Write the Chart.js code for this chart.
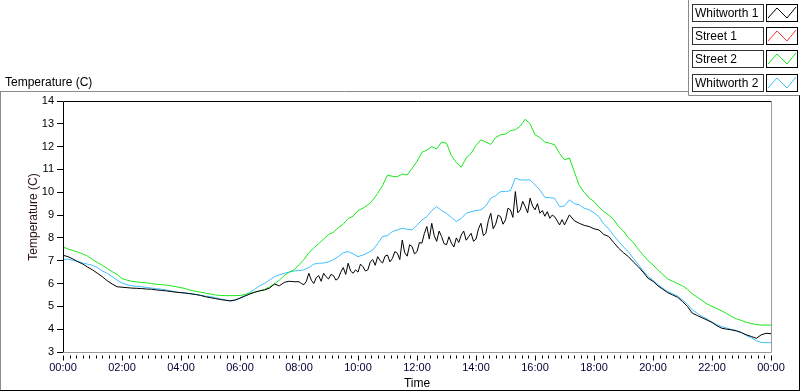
<!DOCTYPE html>
<html>
<head>
<meta charset="utf-8">
<script src="https://cdn.jsdelivr.net/npm/chart.js@4/dist/chart.umd.min.js"></script>
<style>
  html, body { margin: 0; padding: 0; background: #fff; }
  #wrap { width: 800px; height: 392px; }
</style>
</head>
<body>
<div id="wrap"><canvas id="tempChart" width="800" height="392"></canvas></div>
<script>
// Sample times in hours, one reading every 10 minutes from 00:00 to 24:00
const sampleHours = Array.from({ length: 145 }, (_, i) => i / 6);
// Whitworth 1 is read more finely (every 5 min) in its noisy 08:00-17:00 stretch
const blackHours = [
  ...Array.from({ length: 48 }, (_, i) => i / 6),
  ...Array.from({ length: 108 }, (_, i) => 8 + i / 12),
  ...Array.from({ length: 43 }, (_, i) => 17 + i / 6)
];

const seriesNames = ['Whitworth 1', 'Street 1', 'Street 2', 'Whitworth 2'];
const seriesColors = ['#000000', '#ff3030', '#18e818', '#3fbfff'];

// Whitworth 1 (black)
const whitworth1 = [
  7.24, 7.18, 7.08, 6.96, 6.86, 6.72,
  6.60, 6.45, 6.30, 6.12, 5.98, 5.86,
  5.84, 5.82, 5.80, 5.79, 5.78, 5.76,
  5.75, 5.72, 5.70, 5.68, 5.65, 5.62,
  5.60, 5.58, 5.55, 5.52, 5.48, 5.42,
  5.38, 5.34, 5.30, 5.27, 5.24, 5.28,
  5.36, 5.45, 5.54, 5.62, 5.68, 5.72,
  5.80, 5.98, 5.90, 6.05, 6.10, 6.08,
  // 08:00 - 16:55, every 5 minutes
  6.08, 6.00, 5.95, 6.10, 6.45, 6.15, 6.00, 6.25, 6.35, 6.10, 6.45, 6.30,
  6.20, 6.40, 6.35, 6.15, 6.23, 6.50, 6.70, 6.40, 6.89, 6.55, 6.45, 6.60,
  6.50, 6.85, 6.74, 6.55, 6.60, 6.95, 7.05, 6.80, 7.18, 7.00, 6.90, 7.20,
  7.25, 6.95, 7.10, 7.40, 7.33, 7.05, 7.91, 7.35, 7.20, 7.70, 7.62, 7.30,
  7.40, 7.80, 7.77, 8.20, 8.50, 7.95, 8.64, 8.10, 7.85, 8.30, 8.06, 7.75,
  7.70, 8.05, 7.77, 7.60, 8.00, 7.80, 8.13, 8.30, 7.90, 8.05, 8.20, 7.85,
  7.95, 8.40, 8.64, 8.10, 8.20, 8.75, 9.08, 8.40, 8.60, 9.00, 8.93, 8.60,
  8.79, 9.30, 9.23, 8.90, 10.03, 9.10, 9.23, 9.60, 9.37, 9.10, 9.74, 9.40,
  9.23, 9.50, 9.08, 9.20, 8.95, 9.15, 8.86, 9.00, 8.93, 8.75, 8.57, 8.80,
  // 17:00 onwards, every 10 minutes
  8.57, 9.01, 8.75, 8.64, 8.55, 8.50,
  8.40, 8.35, 8.15, 8.06, 7.80, 7.55,
  7.35, 7.18, 6.95, 6.74, 6.50, 6.23,
  6.10, 5.90, 5.75, 5.60, 5.50, 5.40,
  5.21, 5.00, 4.70, 4.60, 4.50, 4.40,
  4.30, 4.15, 4.04, 4.00, 3.97, 3.92,
  3.85, 3.75, 3.68, 3.60, 3.75, 3.82,
  3.80
];

// Street 1 (red) - no readings shown on the graph
const street1 = [];

// Street 2 (green)
const street2 = [
  7.60, 7.52, 7.45, 7.38, 7.30, 7.20,
  7.05, 6.92, 6.80, 6.66, 6.52, 6.40,
  6.22, 6.15, 6.10, 6.07, 6.05, 6.03,
  6.00, 5.97, 5.95, 5.93, 5.90, 5.86,
  5.82, 5.77, 5.70, 5.66, 5.62, 5.58,
  5.54, 5.50, 5.48, 5.47, 5.47, 5.47,
  5.48, 5.52, 5.57, 5.62, 5.68, 5.74,
  5.85, 5.98, 6.15, 6.35, 6.50, 6.60,
  6.82, 7.05, 7.35, 7.55, 7.75, 7.95,
  8.15, 8.25, 8.45, 8.60, 8.85, 8.95,
  9.20, 9.30, 9.45, 9.65, 9.95, 10.30,
  10.75, 10.70, 10.68, 10.80, 10.76, 11.05,
  11.35, 11.75, 11.85, 12.00, 11.90, 12.20,
  12.15, 11.60, 11.30, 11.10, 11.50, 11.70,
  12.05, 12.30, 12.20, 12.10, 12.40, 12.52,
  12.55, 12.70, 12.74, 12.90, 13.20, 13.00,
  12.52, 12.40, 12.20, 12.15, 12.08, 11.70,
  11.42, 11.50, 10.90, 10.30, 10.00, 9.75,
  9.60, 9.35, 9.15, 9.00, 8.80, 8.50,
  8.30, 8.00, 7.80, 7.50, 7.25, 7.00,
  6.82, 6.60, 6.40, 6.20, 6.10, 6.00,
  5.90, 5.75, 5.55, 5.40, 5.25, 5.10,
  5.00, 4.90, 4.80, 4.68, 4.55, 4.45,
  4.38, 4.30, 4.25, 4.20, 4.18, 4.18,
  4.18
];

// Whitworth 2 (light blue)
const whitworth2 = [
  7.05, 7.07, 7.02, 6.96, 6.90, 6.85,
  6.80, 6.70, 6.55, 6.45, 6.30, 6.15,
  6.02, 5.95, 5.90, 5.88, 5.86, 5.83,
  5.80, 5.78, 5.75, 5.72, 5.68, 5.63,
  5.60, 5.58, 5.56, 5.52, 5.48, 5.45,
  5.43, 5.38, 5.33, 5.28, 5.24, 5.26,
  5.36, 5.50, 5.62, 5.75, 5.90, 6.01,
  6.15, 6.30, 6.38, 6.45, 6.50, 6.55,
  6.57, 6.60, 6.70, 6.85, 6.89, 6.90,
  6.95, 7.05, 7.18, 7.35, 7.40, 7.30,
  7.18, 7.25, 7.35, 7.47, 7.75, 8.06,
  8.10, 8.28, 8.35, 8.42, 8.38, 8.35,
  8.55, 8.79, 8.93, 9.20, 9.37, 9.20,
  9.08, 8.90, 8.72, 8.85, 9.08, 9.15,
  9.20, 9.23, 9.40, 9.74, 9.85, 10.03,
  10.03, 10.07, 10.62, 10.54, 10.54, 10.54,
  10.32, 10.10, 9.78, 9.76, 9.74, 9.37,
  9.40, 9.67, 9.50, 9.45, 9.30, 9.23,
  9.10, 8.93, 8.60, 8.40, 8.10, 7.85,
  7.60, 7.40, 7.10, 6.85, 6.55, 6.30,
  6.15, 5.95, 5.80, 5.65, 5.55, 5.45,
  5.28, 5.10, 4.84, 4.70, 4.55, 4.45,
  4.30, 4.20, 4.11, 4.05, 3.98, 3.94,
  3.85, 3.72, 3.62, 3.50, 3.42, 3.41,
  3.41
];

const allSeries = [whitworth1, street1, street2, whitworth2];
const allHours = [blackHours, sampleHours, sampleHours, sampleHours];

const FONT = '"Liberation Sans", Arial, sans-serif';

function toPoints(values, hours) {
  return values.map((v, i) => ({ x: hours[i], y: v }));
}

function isMajor(v) {
  return Math.abs(v / 2 - Math.round(v / 2)) < 1e-6;
}

function hourLabel(v) {
  const h = Math.round(v) % 24;
  return (h < 10 ? '0' : '') + h + ':00';
}

// Frame, captions, x tick marks and the boxed legend on the right
const decorPlugin = {
  id: 'decor',
  afterDraw(chart) {
    const ctx = chart.ctx;
    const area = chart.chartArea;
    const xScale = chart.scales.x;
    ctx.save();

    // outer panel lines
    ctx.lineWidth = 1;
    ctx.strokeStyle = '#8a8a8a';
    ctx.beginPath();
    ctx.moveTo(0, 91.5); ctx.lineTo(688.5, 91.5);
    ctx.moveTo(688.5, 0); ctx.lineTo(688.5, 95.5);
    ctx.moveTo(688.5, 95.5); ctx.lineTo(800, 95.5);
    ctx.moveTo(0.5, 91.5); ctx.lineTo(0.5, 391);
    ctx.stroke();
    ctx.strokeStyle = '#000';
    ctx.beginPath();
    ctx.moveTo(0, 390.5); ctx.lineTo(800, 390.5);
    ctx.moveTo(799.5, 95.5); ctx.lineTo(799.5, 391);
    ctx.stroke();

    // plot box: black top/left, grey right/bottom
    const l = Math.round(area.left) + 0.5, r = Math.round(area.right) + 0.5;
    const t = Math.round(area.top) + 0.5, b = Math.round(area.bottom) + 0.5;
    ctx.strokeStyle = '#000';
    ctx.beginPath();
    ctx.moveTo(l, b); ctx.lineTo(l, t); ctx.lineTo(r, t);
    ctx.stroke();
    ctx.strokeStyle = '#9a9a9a';
    ctx.beginPath();
    ctx.moveTo(r, t); ctx.lineTo(r, b); ctx.lineTo(l, b);
    ctx.stroke();

    // x tick marks (major every 2 h, minor in between)
    ctx.strokeStyle = '#000';
    ctx.beginPath();
    xScale.ticks.forEach(tk => {
      const px = Math.round(xScale.getPixelForValue(tk.value)) + 0.5;
      ctx.moveTo(px, b + 3);
      ctx.lineTo(px, b + (isMajor(tk.value) ? 8 : 6));
    });
    ctx.stroke();

    // captions
    ctx.fillStyle = '#000';
    ctx.font = '12px ' + FONT;
    ctx.textAlign = 'left';
    ctx.textBaseline = 'alphabetic';
    ctx.fillText('Temperature (C)', 5, 86);

    ctx.textAlign = 'center';
    ctx.textBaseline = 'middle';
    ctx.fillText('Time', (area.left + area.right) / 2, 384);

    ctx.save();
    ctx.translate(34, 217);
    ctx.rotate(-Math.PI / 2);
    ctx.fillStyle = '#2a1010';
    ctx.fillText('Temperature (C)', 0, 0);
    ctx.restore();

    // legend boxes
    const rowTops = [4, 27, 50, 74];
    chart.data.datasets.forEach((ds, i) => {
      const y0 = rowTops[i];
      ctx.fillStyle = '#fff';
      ctx.fillRect(692, y0, 71, 17);
      ctx.strokeStyle = '#333';
      ctx.strokeRect(692.5, y0 + 0.5, 71, 17);
      ctx.fillStyle = '#000';
      ctx.textAlign = 'left';
      ctx.textBaseline = 'middle';
      ctx.font = '12px ' + FONT;
      ctx.fillText(ds.label, 695, y0 + 9.5);

      ctx.fillStyle = '#fff';
      ctx.fillRect(766, y0, 31, 17);
      ctx.strokeStyle = '#000';
      ctx.strokeRect(766.5, y0 + 0.5, 31, 17);
      ctx.strokeStyle = ds.borderColor;
      ctx.beginPath();
      ctx.moveTo(768, y0 + 14);
      ctx.lineTo(777, y0 + 4);
      ctx.lineTo(787, y0 + 14);
      ctx.lineTo(796, y0 + 3);
      ctx.stroke();
    });

    ctx.restore();
  }
};

const datasets = seriesNames.map((name, i) => ({
  label: name,
  data: toPoints(allSeries[i], allHours[i]),
  borderColor: seriesColors[i],
  backgroundColor: seriesColors[i],
  borderWidth: 1,
  pointRadius: 0,
  tension: 0,
  fill: false
}));

new Chart(document.getElementById('tempChart'), {
  type: 'line',
  data: { datasets },
  options: {
    responsive: false,
    animation: false,
    events: [],
    layout: { padding: { top: 101, right: 29, left: 0, bottom: 0 } },
    plugins: {
      legend: { display: false },
      tooltip: { enabled: false }
    },
    scales: {
      x: {
        type: 'linear',
        min: 0,
        max: 24,
        afterFit(scale) { scale.height = 40; },
        border: { display: false },
        grid: { display: false, drawTicks: false },
        ticks: {
          stepSize: 2 / 9,
          autoSkip: false,
          maxRotation: 0,
          padding: 9,
          color: '#000033',
          font: { family: FONT, size: 11 },
          callback: v => isMajor(v) ? hourLabel(v) : ''
        }
      },
      y: {
        min: 3,
        max: 14,
        afterFit(scale) { scale.width = 63; },
        border: { display: false },
        grid: { drawOnChartArea: false, tickLength: 6, tickColor: '#000' },
        ticks: {
          stepSize: 1,
          padding: 3,
          color: '#000',
          font: { family: FONT, size: 11 }
        }
      }
    }
  },
  plugins: [decorPlugin]
});
</script>
</body>
</html>
